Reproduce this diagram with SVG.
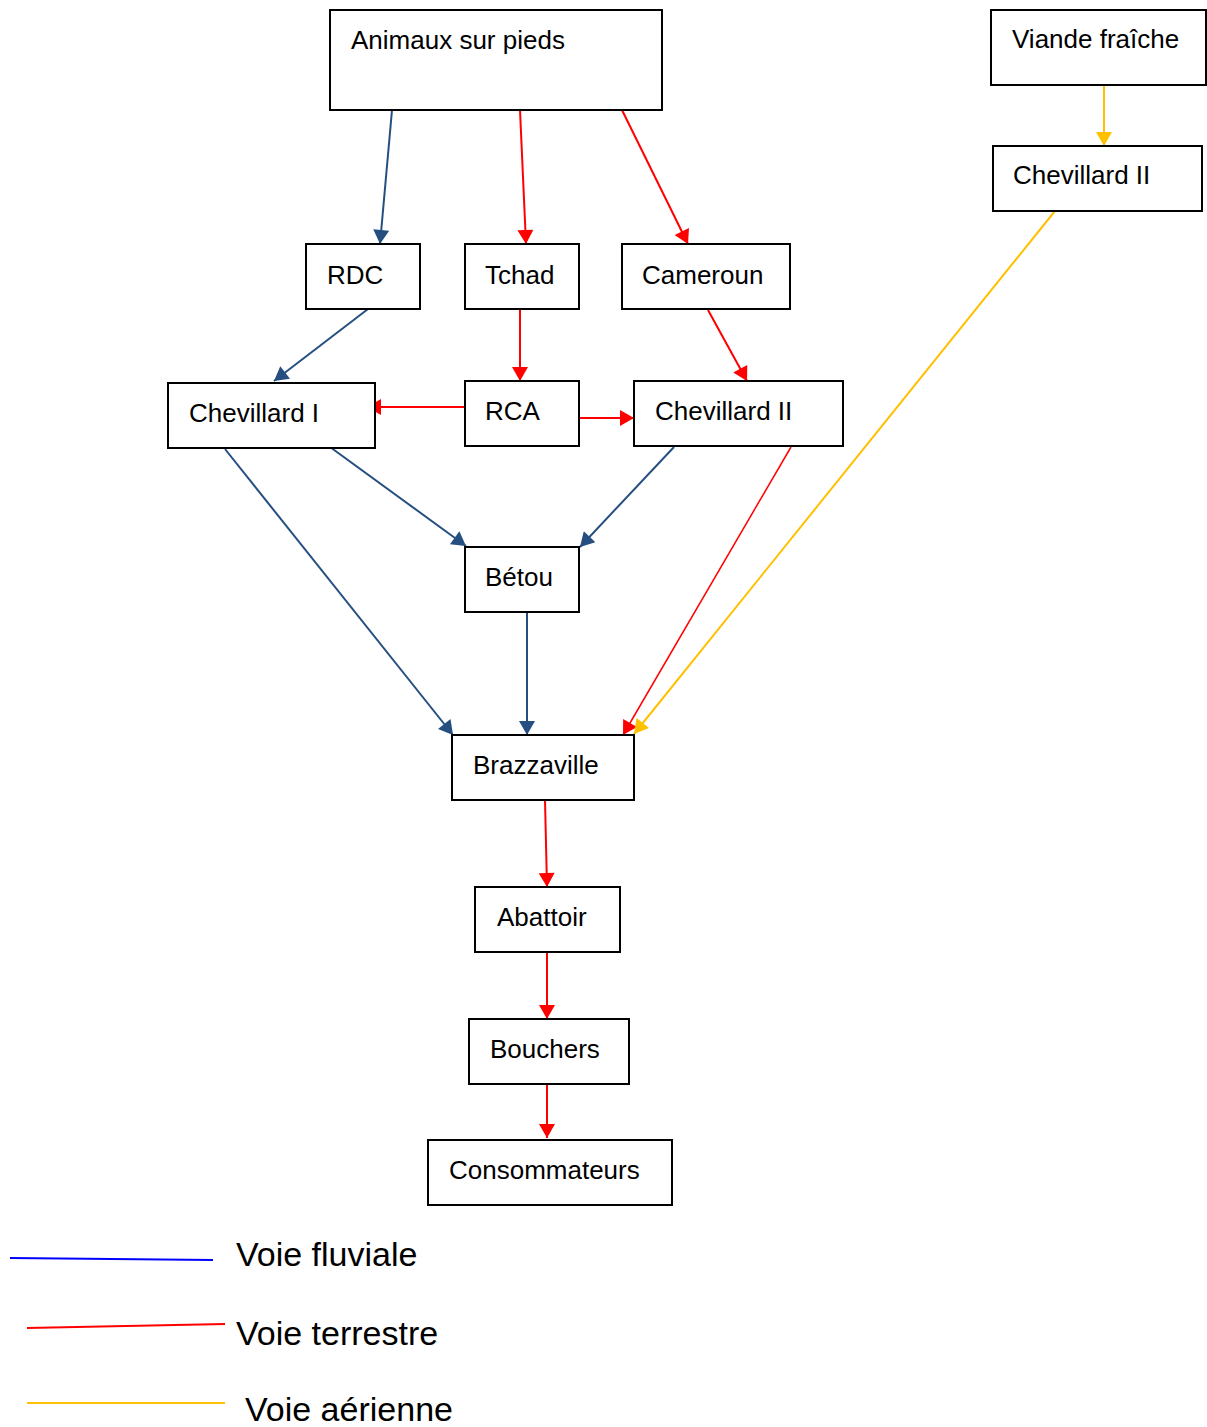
<svg xmlns="http://www.w3.org/2000/svg" width="1207" height="1427" viewBox="0 0 1207 1427">
<style>
.box{fill:#fff;stroke:#000;stroke-width:2}
.lbl{font-family:"Liberation Sans",Arial,sans-serif;font-size:26px;fill:#000}
.leg{font-family:"Liberation Sans",Arial,sans-serif;font-size:34px;fill:#000}
.b{stroke:#254f80;stroke-width:2;fill:none}
.r{stroke:#ff0000;stroke-width:2;fill:none}
.r1{stroke:#ff0000;stroke-width:1.5;fill:none}
.y{stroke:#ffc000;stroke-width:2;fill:none}
</style>
<defs>
<marker id="ab" markerUnits="userSpaceOnUse" markerWidth="16" markerHeight="16" viewBox="0 0 14 16" refX="14" refY="8" orient="auto"><path d="M0,0 L14,8 L0,16 z" fill="#254f80"/></marker>
<marker id="ar" markerUnits="userSpaceOnUse" markerWidth="16" markerHeight="16" viewBox="0 0 14 16" refX="14" refY="8" orient="auto"><path d="M0,0 L14,8 L0,16 z" fill="#ff0000"/></marker>
<marker id="ay" markerUnits="userSpaceOnUse" markerWidth="16" markerHeight="16" viewBox="0 0 14 16" refX="14" refY="8" orient="auto"><path d="M0,0 L14,8 L0,16 z" fill="#ffc000"/></marker>
</defs>
<g id="connectors">
<line class="b" x1="392" y1="110" x2="380" y2="244" marker-end="url(#ab)"/>
<line class="r" x1="520" y1="110" x2="526" y2="244" marker-end="url(#ar)"/>
<line class="r" x1="622" y1="110" x2="688" y2="244" marker-end="url(#ar)"/>
<line class="b" x1="368" y1="309" x2="274" y2="381" marker-end="url(#ab)"/>
<line class="r" x1="520" y1="310" x2="520" y2="381" marker-end="url(#ar)"/>
<line class="r" x1="708" y1="310" x2="747" y2="381" marker-end="url(#ar)"/>
<line class="r" x1="465" y1="407" x2="367" y2="407" stroke-width="3" marker-end="url(#ar)"/>
<line class="r" x1="579" y1="418" x2="634" y2="418" marker-end="url(#ar)"/>
<line class="b" x1="330" y1="447" x2="466" y2="546" marker-end="url(#ab)"/>
<line class="b" x1="674" y1="447" x2="580" y2="547" marker-end="url(#ab)"/>
<line class="b" x1="225" y1="449" x2="453" y2="735" marker-end="url(#ab)"/>
<line class="b" x1="527" y1="612" x2="527" y2="735" marker-end="url(#ab)"/>
<line class="r1" x1="791" y1="447" x2="623" y2="735" marker-end="url(#ar)"/>
<line class="y" x1="1055" y1="211" x2="634" y2="734" marker-end="url(#ay)"/>
<line class="y" x1="1104" y1="85" x2="1104" y2="146" marker-end="url(#ay)"/>
<line class="r" x1="545" y1="800" x2="547" y2="887" marker-end="url(#ar)"/>
<line class="r" x1="547" y1="952" x2="547" y2="1019" marker-end="url(#ar)"/>
<line class="r" x1="547" y1="1085" x2="547" y2="1138" marker-end="url(#ar)"/>
</g>
<g id="n-animaux"><rect class="box" x="330" y="10" width="332" height="100"/><text class="lbl" x="351" y="49">Animaux sur pieds</text></g>
<g id="n-viande"><rect class="box" x="991" y="10" width="215" height="75"/><text class="lbl" x="1012" y="48">Viande fraîche</text></g>
<g id="n-chev2-top"><rect class="box" x="993" y="146" width="209" height="65"/><text class="lbl" x="1013" y="184">Chevillard II</text></g>
<g id="n-rdc"><rect class="box" x="306" y="244" width="114" height="65"/><text class="lbl" x="327" y="284">RDC</text></g>
<g id="n-tchad"><rect class="box" x="465" y="244" width="114" height="65"/><text class="lbl" x="485" y="284">Tchad</text></g>
<g id="n-cameroun"><rect class="box" x="622" y="244" width="168" height="65"/><text class="lbl" x="642" y="284">Cameroun</text></g>
<g id="n-chev1"><rect class="box" x="168" y="383" width="207" height="65"/><text class="lbl" x="189" y="422">Chevillard I</text></g>
<g id="n-rca"><rect class="box" x="465" y="381" width="114" height="65"/><text class="lbl" x="485" y="420">RCA</text></g>
<g id="n-chev2"><rect class="box" x="634" y="381" width="209" height="65"/><text class="lbl" x="655" y="420">Chevillard II</text></g>
<g id="n-betou"><rect class="box" x="465" y="547" width="114" height="65"/><text class="lbl" x="485" y="586">Bétou</text></g>
<g id="n-brazza"><rect class="box" x="452" y="735" width="182" height="65"/><text class="lbl" x="473" y="774">Brazzaville</text></g>
<g id="n-abattoir"><rect class="box" x="475" y="887" width="145" height="65"/><text class="lbl" x="497" y="926">Abattoir</text></g>
<g id="n-bouchers"><rect class="box" x="469" y="1019" width="160" height="65"/><text class="lbl" x="490" y="1058">Bouchers</text></g>
<g id="n-conso"><rect class="box" x="428" y="1140" width="244" height="65"/><text class="lbl" x="449" y="1179">Consommateurs</text></g>
<g id="legend">
<line x1="10" y1="1258" x2="213" y2="1260" stroke="#0000ff" stroke-width="2"/>
<text class="leg" x="236" y="1266">Voie fluviale</text>
<line x1="27" y1="1328" x2="225" y2="1324" stroke="#ff0000" stroke-width="2"/>
<text class="leg" x="236" y="1345">Voie terrestre</text>
<line x1="27" y1="1403" x2="225" y2="1403" stroke="#ffc000" stroke-width="2"/>
<text class="leg" x="245" y="1421">Voie aérienne</text>
</g>
</svg>
